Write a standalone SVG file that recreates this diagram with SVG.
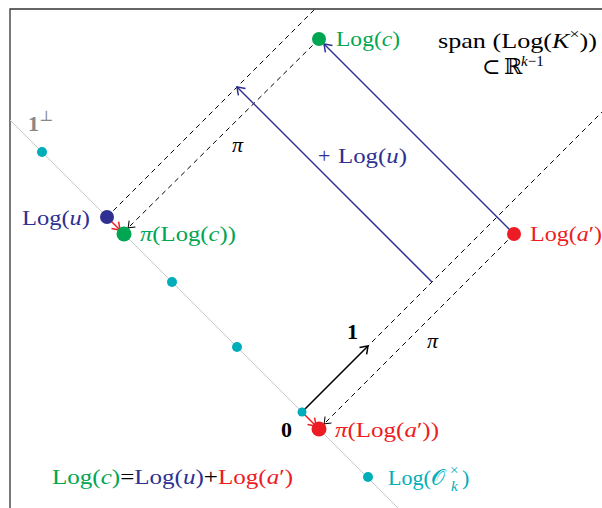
<svg xmlns="http://www.w3.org/2000/svg" width="602" height="508" viewBox="0 0 602 508">
<defs>
<style>
text{font-family:"Liberation Serif","DejaVu Serif",serif;font-size:22px}
.it{font-style:italic}
.bf{font-weight:bold}
.green{fill:#00A651}
.blue{fill:#2E3192}
.red{fill:#ED1C24}
.cyan{fill:#00AEB9}
.dash{stroke:#000;stroke-width:1;stroke-dasharray:5 4;fill:none}
.bl{stroke:#2E3192;stroke-width:1.5;fill:none}
.rl{stroke:#ED1C24;stroke-width:1.5;fill:none}
.kl{stroke:#000;stroke-width:1.6;fill:none}
</style>
<marker id="ahB" viewBox="-10 -7 12 14" markerWidth="12" markerHeight="14" refX="0" refY="0" orient="auto" markerUnits="userSpaceOnUse"><path d="M-7,-5 Q-2,-1.5 0,0 Q-2,1.5 -7,5" fill="none" stroke="#2E3192" stroke-width="1.5"/></marker>
<marker id="ahK" viewBox="-10 -7 12 14" markerWidth="12" markerHeight="14" refX="0" refY="0" orient="auto" markerUnits="userSpaceOnUse"><path d="M-7,-5 Q-2,-1.5 0,0 Q-2,1.5 -7,5" fill="none" stroke="#000" stroke-width="1.5"/></marker>
<marker id="ahk" viewBox="-10 -7 12 14" markerWidth="12" markerHeight="14" refX="0" refY="0" orient="auto" markerUnits="userSpaceOnUse"><path d="M-6,-4.5 Q-2,-1.2 0,0 Q-2,1.2 -6,4.5" fill="none" stroke="#000" stroke-width="1"/></marker>
<marker id="ahR" viewBox="-10 -7 12 14" markerWidth="12" markerHeight="14" refX="0" refY="0" orient="auto" markerUnits="userSpaceOnUse"><path d="M-7,-5 Q-2,-1.5 0,0 Q-2,1.5 -7,5" fill="none" stroke="#ED1C24" stroke-width="1.5"/></marker>
</defs>
<rect width="602" height="508" fill="#fff"/>
<!-- frame -->
<path d="M10,508 V9 H602" fill="none" stroke="#333" stroke-width="1.3"/>
<!-- 1-perp line -->
<line x1="10" y1="120" x2="398" y2="508" stroke="#c8c8c8" stroke-width="1"/>
<text x="28" y="131" class="bf" fill="#888">1<tspan font-size="15" dy="-10" font-weight="normal">⊥</tspan></text>

<g id="connectors">
<line class="dash" x1="107" y1="217" x2="315" y2="9"/>
<line class="dash" x1="319" y1="39" x2="128" y2="228" marker-end="url(#ahk)"/>
<line class="dash" x1="302" y1="412" x2="602" y2="112"/>
<line class="dash" x1="514" y1="234" x2="324" y2="424" marker-end="url(#ahk)"/>
<line class="bl" x1="432" y1="282" x2="237" y2="87" marker-end="url(#ahB)"/>
<line class="bl" x1="514" y1="234" x2="324" y2="44" marker-end="url(#ahB)"/>
<line class="kl" x1="302" y1="412" x2="368" y2="346" marker-end="url(#ahK)"/>
<line class="rl" x1="107" y1="217" x2="120" y2="230" marker-end="url(#ahR)"/>
<line class="rl" x1="302" y1="412" x2="316" y2="426" marker-end="url(#ahR)"/>
<text x="232" y="152" class="it">π</text>
<text x="427" y="348" class="it">π</text>
<text x="318" y="163" class="blue">+<tspan x="338" textLength="69" lengthAdjust="spacingAndGlyphs">Log(<tspan class="it">u</tspan>)</tspan></text>
<text x="347" y="339" class="bf">1</text>
</g>

<g id="unit-dots" class="cyan">
<circle cx="42" cy="152" r="5"/>
<circle cx="172" cy="282" r="5"/>
<circle cx="237" cy="347" r="5"/>
<circle cx="368" cy="477" r="5"/>
</g>

<g id="origin">
<circle cx="302" cy="412" r="4.5" class="cyan"/>
<text x="281" y="437" class="bf">0</text>
</g>

<g id="log-u">
<circle cx="107" cy="217" r="7" class="blue"/>
<text x="22" y="225" class="blue" textLength="68" lengthAdjust="spacingAndGlyphs">Log(<tspan class="it">u</tspan>)</text>
</g>

<g id="pi-log-c">
<circle cx="124" cy="234" r="7.5" class="green"/>
<text x="140" y="241" class="green" textLength="96" lengthAdjust="spacingAndGlyphs"><tspan class="it">π</tspan>(Log(<tspan class="it">c</tspan>))</text>
</g>

<g id="log-c">
<circle cx="319" cy="39" r="7" class="green"/>
<text x="336" y="46" class="green" textLength="64" lengthAdjust="spacingAndGlyphs">Log(<tspan class="it">c</tspan>)</text>
</g>

<g id="log-a">
<circle cx="514" cy="234" r="7" class="red"/>
<text x="530" y="241" class="red" textLength="72" lengthAdjust="spacingAndGlyphs">Log(<tspan class="it">a</tspan>′)</text>
</g>

<g id="pi-log-a">
<circle cx="319" cy="429" r="7.5" class="red"/>
<text x="335" y="437" class="red" textLength="104" lengthAdjust="spacingAndGlyphs"><tspan class="it">π</tspan>(Log(<tspan class="it">a</tspan>′))</text>
</g>

<g id="span-label">
<text x="438" y="48" font-size="23" textLength="159" lengthAdjust="spacingAndGlyphs">span (Log(<tspan class="it">K</tspan><tspan font-size="15" dy="-9">×</tspan><tspan dy="9">))</tspan></text>
<text x="482" y="74">⊂<tspan x="504">ℝ</tspan><tspan x="521" y="66" font-size="15"><tspan class="it">k</tspan>−1</tspan></text>
</g>

<g id="log-units-label">
<text x="388" y="485" class="cyan">Log(<tspan font-family="DejaVu Serif, serif">𝒪</tspan><tspan x="450" y="475" font-size="15">×</tspan><tspan x="451" y="491" font-size="15" class="it">k</tspan><tspan x="462" y="485">)</tspan></text>
</g>

<g id="equation">
<text x="52" y="484" textLength="241" lengthAdjust="spacingAndGlyphs"><tspan class="green">Log(<tspan class="it">c</tspan>)</tspan>=<tspan class="blue">Log(<tspan class="it">u</tspan>)</tspan>+<tspan class="red">Log(<tspan class="it">a</tspan>′)</tspan></text>
</g>
</svg>
